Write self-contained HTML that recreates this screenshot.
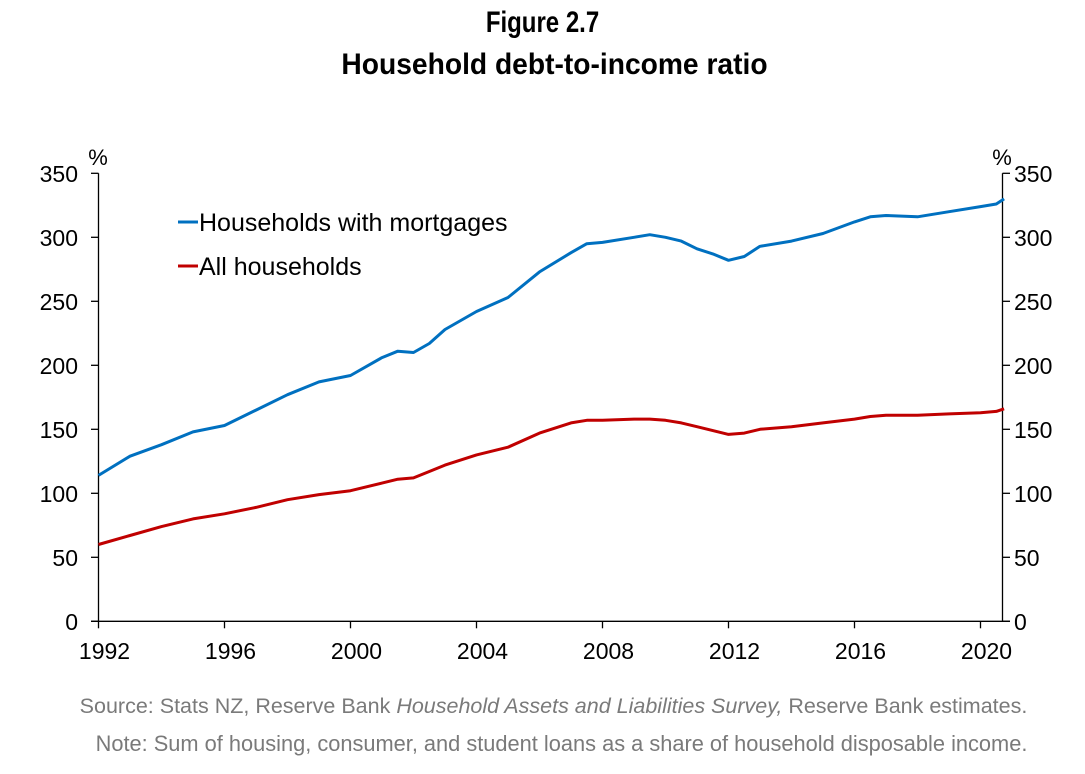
<!DOCTYPE html>
<html><head><meta charset="utf-8">
<style>
body{margin:0;background:#fff;width:1085px;height:774px;overflow:hidden;font-family:"Liberation Sans",Arial,sans-serif}
.title{position:absolute;left:0;width:1085px;text-align:center;font-family:"Liberation Sans Narrow","Liberation Sans",sans-serif;font-weight:bold;font-size:30px;color:#000}
.note{position:absolute;left:0;width:1085px;text-align:center;font-size:21.5px;color:#7a7a7a}
</style></head><body>
<div class="title" style="top:6px;transform:scaleX(0.8);left:0">Figure 2.7</div>
<div class="title" style="top:48px;transform:scaleX(0.94);left:12px">Household debt-to-income ratio</div>
<svg id="chart" width="1085" height="774" style="position:absolute;left:0;top:0"></svg>
<div class="note" style="top:694px;left:11px">Source: Stats NZ, Reserve Bank <i>Household Assets and Liabilities Survey,</i> Reserve Bank estimates.</div>
<div class="note" style="top:731px;left:19px;font-size:21.8px">Note: Sum of housing, consumer, and student loans as a share of household disposable income.</div>
<script>
const years=[1992,1993,1994,1995,1996,1997,1998,1999,2000,2001,2001.5,2002,2002.5,2003,2004,2005,2006,2007,2007.5,2008,2009,2009.5,2010,2010.5,2011,2011.5,2012,2012.5,2013,2014,2015,2016,2016.5,2017,2018,2019,2020,2020.5,2020.75];
const mortgages=[114,129,138,148,153,165,177,187,192,206,211,210,217,228,242,253,273,288,295,296,300,302,300,297,291,287,282,285,293,297,303,312,316,317,316,320,324,326,330];
const allHouseholds=[60,67,74,80,84,89,95,99,102,108,111,112,117,122,130,136,147,155,157,157,158,158,157,155,152,149,146,147,150,152,155,158,160,161,161,162,163,164,166];
const yTicks=[0,50,100,150,200,250,300,350];
const xTicks=[1992,1996,2000,2004,2008,2012,2016,2020];
const NS="http://www.w3.org/2000/svg";
const svg=document.getElementById('chart');
const X=y=>98.5+(y-1992)*31.5;
const Y=v=>621.3-v*1.28;
function mk(t,a){const e=document.createElementNS(NS,t);for(const k in a)e.setAttribute(k,a[k]);svg.appendChild(e);return e;}
let e;
e=mk('line',{x1:98.5,y1:Y(0),x2:98.5,y2:Y(350),stroke:'#000','stroke-width':1.3});


e=mk('line',{x1:1002.5,y1:Y(0),x2:1002.5,y2:Y(350),stroke:'#000','stroke-width':1.3});


e=mk('line',{x1:91,y1:Y(0),x2:1010,y2:Y(0),stroke:'#000','stroke-width':1.3});


yTicks.forEach(v=>{
 e=mk('line',{x1:91,y1:Y(v),x2:98.5,y2:Y(v),stroke:'#000','stroke-width':1.3});
 
 
 e=mk('line',{x1:1002.5,y1:Y(v),x2:1010,y2:Y(v),stroke:'#000','stroke-width':1.3});
 
 
 e=mk('text',{x:78,y:Y(v)+8.5,'text-anchor':'end','font-size':23,fill:'#000'});e.textContent=v;
 
 
 e=mk('text',{x:1014,y:Y(v)+8.5,'text-anchor':'start','font-size':23,fill:'#000'});e.textContent=v;
 
 
});
xTicks.forEach(t=>{
 e=mk('line',{x1:X(t),y1:Y(0),x2:X(t),y2:Y(0)+7,stroke:'#000','stroke-width':1.3});
 
 
 e=mk('text',{x:X(t)+6,y:659,'text-anchor':'middle','font-size':23,fill:'#000'});e.textContent=t;
 
 
});
e=mk('text',{x:98,y:165,'text-anchor':'middle','font-size':22,fill:'#000'});e.textContent='%';


e=mk('text',{x:1002,y:165,'text-anchor':'middle','font-size':22,fill:'#000'});e.textContent='%';


function line(vals,color,name){
 const d=vals.map((v,i)=>(i?'L':'M')+X(years[i]).toFixed(1)+' '+Y(v).toFixed(1)).join(' ');
 const p=mk('path',{d:d,fill:'none',stroke:color,'stroke-width':3,'stroke-linejoin':'round'});
 
 
}
line(allHouseholds,'#c00000','all-households-line');
line(mortgages,'#0070c0','mortgages-line');
e=mk('line',{x1:178,y1:222,x2:198,y2:222,stroke:'#0070c0','stroke-width':3});


e=mk('text',{x:199,y:231,'font-size':25,fill:'#000'});e.textContent='Households with mortgages';


e=mk('line',{x1:178,y1:266,x2:198,y2:266,stroke:'#c00000','stroke-width':3});


e=mk('text',{x:199,y:275,'font-size':25,fill:'#000'});e.textContent='All households';


</script>
</body></html>
